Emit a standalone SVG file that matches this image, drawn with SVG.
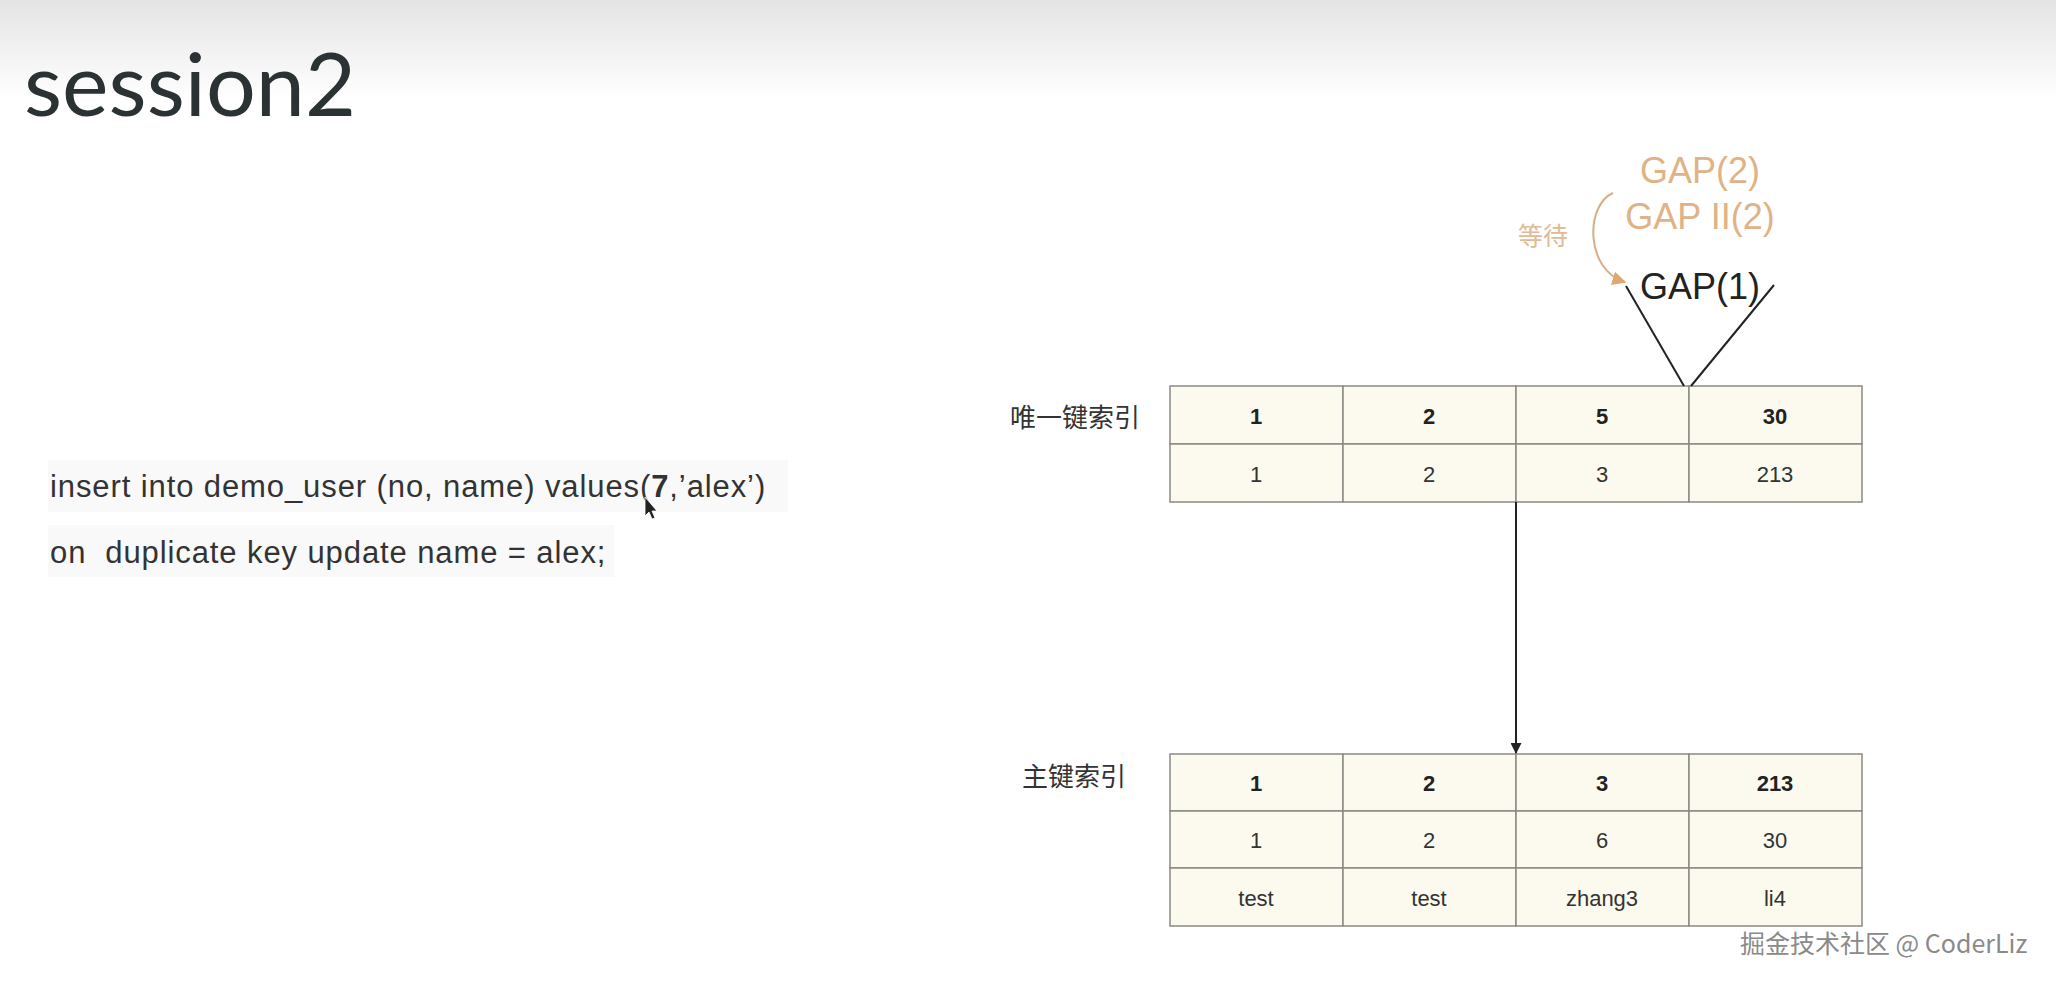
<svg xmlns="http://www.w3.org/2000/svg" width="2056" height="989" viewBox="0 0 2056 989">
<defs>
<linearGradient id="hdr" x1="0" y1="0" x2="0" y2="1">
<stop offset="0" stop-color="#e4e4e4"/>
<stop offset="1" stop-color="#ffffff"/>
</linearGradient>
<marker id="blk" viewBox="0 0 10 10" refX="9" refY="5" markerWidth="12" markerHeight="11" markerUnits="userSpaceOnUse" orient="auto">
<path d="M0,0 L10,5 L0,10 z" fill="#222"/>
</marker>
<marker id="tan" viewBox="0 0 10 10" refX="9" refY="5" markerWidth="14" markerHeight="14" markerUnits="userSpaceOnUse" orient="auto">
<path d="M0,0 L10,5 L0,10 z" fill="#e0a86e"/>
</marker>
<style>
.cell{fill:#fcfaee;stroke:#8a8a85;stroke-width:1.5}
.v{font-family:"Liberation Sans Narrow","Liberation Sans",Arial,sans-serif;font-size:22px;fill:#333;text-anchor:middle;dominant-baseline:central}
.b{font-weight:bold;fill:#222}
.lab{font-family:"Noto Sans CJK SC",sans-serif;font-size:26px;fill:#333}
.sql{font-family:"Liberation Sans",Arial,sans-serif;font-size:31px;letter-spacing:0.9px;fill:#333}
.gap{font-family:"Liberation Sans",Arial,sans-serif;font-size:36px;text-anchor:middle}
</style>
</defs>
<rect width="2056" height="989" fill="#ffffff"/>
<rect width="2056" height="100" fill="url(#hdr)"/>
<text x="24" y="116" font-family="Lato,'Open Sans',sans-serif" font-size="88" fill="#2a3233">session2</text>

<g id="sql">
<rect x="48" y="460" width="740" height="52" fill="#f9f9f9"/>
<rect x="48" y="525" width="566" height="52" fill="#f9f9f9"/>
<text class="sql" x="50" y="497">insert into demo_user (no, name) values(<tspan font-weight="bold">7</tspan>,’alex’)</text>
<text class="sql" x="50" y="563" xml:space="preserve">on  duplicate key update name = alex;</text>
<path d="M645,497 L645,516 L649,512 L652,519 L655,518 L652,511 L657,511 z" fill="#222" stroke="#fff" stroke-width="0.8"/>
</g>

<g id="unique-index">
<text class="lab" x="1010" y="427">唯一键索引</text>
<rect class="cell" x="1170" y="386" width="173" height="58"/>
<rect class="cell" x="1343" y="386" width="173" height="58"/>
<rect class="cell" x="1516" y="386" width="173" height="58"/>
<rect class="cell" x="1689" y="386" width="173" height="58"/>
<rect class="cell" x="1170" y="444" width="173" height="58"/>
<rect class="cell" x="1343" y="444" width="173" height="58"/>
<rect class="cell" x="1516" y="444" width="173" height="58"/>
<rect class="cell" x="1689" y="444" width="173" height="58"/>
<text class="v b" x="1256" y="416">1</text>
<text class="v b" x="1429" y="416">2</text>
<text class="v b" x="1602" y="416">5</text>
<text class="v b" x="1775" y="416">30</text>
<text class="v" x="1256" y="474">1</text>
<text class="v" x="1429" y="474">2</text>
<text class="v" x="1602" y="474">3</text>
<text class="v" x="1775" y="474">213</text>
</g>

<g id="primary-index">
<text class="lab" x="1022" y="786">主键索引</text>
<rect class="cell" x="1170" y="754" width="173" height="57"/>
<rect class="cell" x="1343" y="754" width="173" height="57"/>
<rect class="cell" x="1516" y="754" width="173" height="57"/>
<rect class="cell" x="1689" y="754" width="173" height="57"/>
<rect class="cell" x="1170" y="811" width="173" height="57"/>
<rect class="cell" x="1343" y="811" width="173" height="57"/>
<rect class="cell" x="1516" y="811" width="173" height="57"/>
<rect class="cell" x="1689" y="811" width="173" height="57"/>
<rect class="cell" x="1170" y="868" width="173" height="58"/>
<rect class="cell" x="1343" y="868" width="173" height="58"/>
<rect class="cell" x="1516" y="868" width="173" height="58"/>
<rect class="cell" x="1689" y="868" width="173" height="58"/>
<text class="v b" x="1256" y="783">1</text>
<text class="v b" x="1429" y="783">2</text>
<text class="v b" x="1602" y="783">3</text>
<text class="v b" x="1775" y="783">213</text>
<text class="v" x="1256" y="840">1</text>
<text class="v" x="1429" y="840">2</text>
<text class="v" x="1602" y="840">6</text>
<text class="v" x="1775" y="840">30</text>
<text class="v" x="1256" y="898">test</text>
<text class="v" x="1429" y="898">test</text>
<text class="v" x="1602" y="898">zhang3</text>
<text class="v" x="1775" y="898">li4</text>
</g>

<g id="gap-labels">
<text class="gap" x="1700" y="183" fill="#dfb386">GAP(2)</text>
<text class="gap" x="1700" y="229" fill="#dfb386">GAP II(2)</text>
<text x="1518" y="245" font-family="'Noto Sans CJK SC',sans-serif" font-size="25" fill="#e2b994">等待</text>
<text class="gap" x="1700" y="299" fill="#222">GAP(1)</text>
</g>

<g id="connectors" fill="none">
<line x1="1516" y1="502" x2="1516" y2="753" stroke="#222" stroke-width="2" marker-end="url(#blk)"/>
<line x1="1626" y1="286" x2="1684" y2="386" stroke="#222" stroke-width="2"/>
<line x1="1774" y1="285" x2="1691" y2="386" stroke="#222" stroke-width="2"/>
<path d="M1613,193 C1585,205 1585,270 1625,282" stroke="#d9ad85" stroke-width="2" marker-end="url(#tan)"/>
</g>

<text x="1741" y="954" font-family="'Noto Sans CJK SC',sans-serif" font-size="25" fill="#ffffff" opacity="0.9">掘金技术社区 @ CoderLiz</text>
<text x="1740" y="953" font-family="'Noto Sans CJK SC',sans-serif" font-size="25" fill="#8a8a8a">掘金技术社区 @ CoderLiz</text>
</svg>
